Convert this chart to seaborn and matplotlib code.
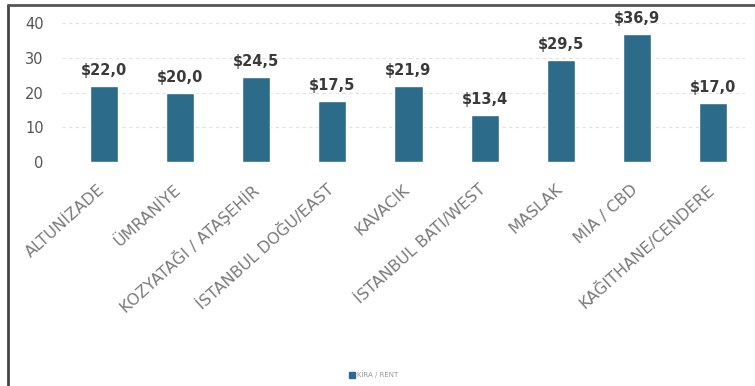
import numpy as np
import pandas as pd
import seaborn as sns
import matplotlib.pyplot as plt
import matplotlib.transforms as mtransforms
from matplotlib.lines import Line2D
from matplotlib.patches import Patch

# data
districts = ['ALTUNİZADE', 'ÜMRANİYE', 'KOZYATAĞI / ATAŞEHİR', 'İSTANBUL DOĞU/EAST',
             'KAVACIK', 'İSTANBUL BATI/WEST', 'MASLAK', 'MİA / CBD', 'KAĞITHANE/CENDERE']
rents = [22.0, 20.0, 24.5, 17.5, 21.9, 13.4, 29.5, 36.9, 17.0]
yticks = [0, 10, 20, 30, 40]
legend_label = 'KİRA / RENT'

bar_color = '#2c6b8a'

sns.set_theme(style='white')
plt.rcParams['font.family'] = ['DejaVu Sans']

df = pd.DataFrame({'district': districts, 'rent': rents})

fig = plt.figure(figsize=(7.55, 3.86), dpi=100)
ax = fig.add_axes([0.082, 0.58, 0.905, 0.373])

sns.barplot(data=df, x='district', y='rent', color=bar_color, width=0.37,
            saturation=1, ax=ax, zorder=3)

for i, v in enumerate(rents):
    ax.text(i, v + 2.3, f'${v:.1f}'.replace('.', ','), ha='center', va='bottom',
            fontsize=10.5, fontweight='bold', color='#3a3a3a')

ax.set_xlim(-0.55, 8.42)
ax.set_ylim(-0.12, 41.5)
ax.set_yticks(yticks)
ax.yaxis.grid(True, color='#e2e2e2', linestyle=(0, (3, 3)), linewidth=0.8, zorder=0)
ax.tick_params(axis='y', length=0, labelsize=10.5, labelcolor='#555555', pad=13)
ax.tick_params(axis='x', length=0, labelsize=11.5, labelcolor='#7a7a7a', pad=14)
# nudge rotated labels a little left so their ends sit under the bar centres
shift = mtransforms.ScaledTranslation(-6 / 100, 0, fig.dpi_scale_trans)
for lbl in ax.get_xticklabels():
    lbl.set_rotation(42)
    lbl.set_ha('right')
    lbl.set_rotation_mode('anchor')
    lbl.set_transform(lbl.get_transform() + shift)
ax.set_xlabel('')
ax.set_ylabel('')
for s in ax.spines.values():
    s.set_visible(False)

# legend below
fig.legend(handles=[Patch(color=bar_color, label=legend_label)], loc='center',
           bbox_to_anchor=(0.495, 0.03), frameon=False, fontsize=5,
           handlelength=0.8, handleheight=0.8, handletextpad=0.3,
           labelcolor='#999999')

# scanned frame border
fig.add_artist(Line2D([0.011, 0.011], [0.0, 0.987], color='#444444', lw=2))
fig.add_artist(Line2D([0.011, 1.0], [0.987, 0.987], color='#555555', lw=2))

fig.savefig('out.png', dpi=100)
